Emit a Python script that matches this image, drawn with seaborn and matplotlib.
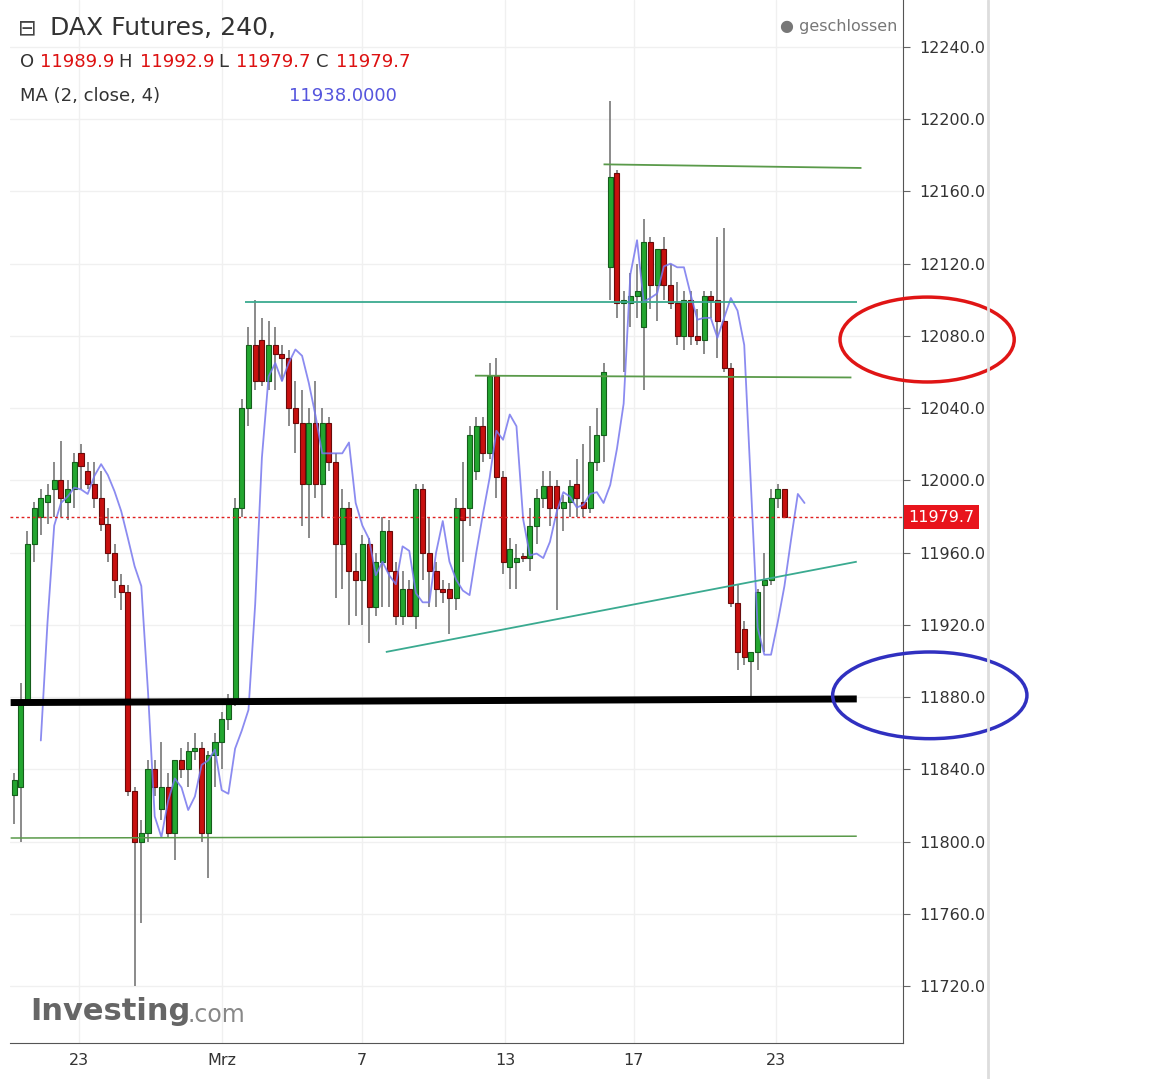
import numpy as np
import pandas as pd
import seaborn as sns
import matplotlib.pyplot as plt
from matplotlib.patches import Ellipse

# 240-min candles, O H L C
opens = [11826, 11830, 11878, 11965, 11980, 11988, 11995, 12000, 11988, 11995, 12015, 12005, 11998, 11990, 11976, 11960, 11942, 11938, 11828, 11800,
         11805, 11840, 11818, 11830, 11805, 11845, 11840, 11850, 11852, 11805, 11848, 11855, 11868, 11878, 11985, 12040, 12075, 12078, 12055, 12075,
         12070, 12068, 12040, 12032, 11998, 12032, 11998, 12032, 12010, 11965, 11985, 11950, 11945, 11965, 11930, 11955, 11972, 11950, 11925, 11940,
         11925, 11995, 11960, 11950, 11940, 11940, 11935, 11985, 11985, 12005, 12030, 12015, 12058, 12002, 11952, 11955, 11958, 11957, 11975, 11990,
         11997, 11997, 11985, 11988, 11998, 11988, 11985, 12010, 12025, 12118, 12170, 12098, 12098, 12102, 12085, 12132, 12108, 12128, 12108, 12098,
         12080, 12100, 12080, 12078, 12102, 12100, 12088, 12062, 11932, 11918, 11900, 11905, 11942, 11945, 11990, 11995]
highs = [11838, 11888, 11972, 11988, 11995, 11998, 12010, 12022, 12000, 12015, 12020, 12010, 12010, 12005, 11985, 11965, 11948, 11942, 11830, 11812,
         11845, 11845, 11855, 11838, 11845, 11852, 11855, 11860, 11855, 11850, 11860, 11872, 11882, 11990, 12045, 12085, 12100, 12090, 12088, 12085,
         12075, 12072, 12055, 12050, 12040, 12055, 12040, 12035, 12015, 11995, 11988, 11960, 11970, 11968, 11960, 11980, 11978, 11955, 11950, 11945,
         11998, 11998, 11980, 11955, 11945, 11943, 11990, 12010, 12030, 12035, 12035, 12065, 12068, 12005, 11968, 11965, 11960, 11985, 11995, 12005,
         12005, 12000, 11992, 12000, 12012, 12020, 12030, 12040, 12065, 12210, 12172, 12105, 12115, 12120, 12145, 12135, 12128, 12135, 12120, 12110,
         12105, 12105, 12095, 12105, 12105, 12135, 12140, 12065, 11942, 11922, 11905, 11940, 11960, 11995, 11998, 11995]
lows = [11810, 11800, 11876, 11955, 11970, 11976, 11980, 11980, 11978, 11985, 11995, 11995, 11985, 11972, 11955, 11935, 11928, 11825, 11720, 11755,
        11800, 11825, 11812, 11802, 11790, 11835, 11830, 11845, 11800, 11780, 11830, 11840, 11862, 11875, 11980, 12030, 12050, 12052, 12050, 12050,
        12055, 12030, 12015, 11975, 11968, 11990, 11980, 12005, 11935, 11940, 11920, 11925, 11920, 11910, 11925, 11930, 11930, 11920, 11920, 11925,
        11918, 11945, 11930, 11930, 11932, 11915, 11928, 11955, 11975, 12000, 12010, 12012, 11990, 11948, 11940, 11940, 11955, 11950, 11965, 11985,
        11975, 11928, 11972, 11980, 11980, 11980, 11982, 12005, 12010, 12100, 12090, 12060, 12085, 12090, 12050, 12095, 12088, 12100, 12095, 12075,
        12072, 12075, 12075, 12070, 12090, 12068, 12060, 11930, 11895, 11898, 11880, 11895, 11905, 11942, 11985, 11979]
closes = [11834, 11878, 11965, 11985, 11990, 11992, 12000, 11990, 11995, 12010, 12008, 11998, 11990, 11976, 11960, 11945, 11938, 11828, 11800, 11805,
          11840, 11830, 11830, 11805, 11845, 11840, 11850, 11852, 11805, 11848, 11855, 11868, 11878, 11985, 12040, 12075, 12055, 12055, 12075, 12070,
          12068, 12040, 12032, 11998, 12032, 11998, 12032, 12010, 11965, 11985, 11950, 11945, 11965, 11930, 11955, 11972, 11950, 11925, 11940, 11925,
          11995, 11960, 11950, 11940, 11938, 11935, 11985, 11978, 12025, 12030, 12015, 12058, 12002, 11955, 11962, 11957, 11957, 11975, 11990, 11997,
          11985, 11985, 11988, 11997, 11990, 11985, 12010, 12025, 12060, 12168, 12098, 12100, 12102, 12105, 12132, 12108, 12128, 12108, 12098, 12080,
          12100, 12080, 12078, 12102, 12100, 12088, 12062, 11932, 11905, 11902, 11905, 11938, 11945, 11990, 11995, 11980]

last_price = 11979.7
price_ticks = [11720, 11760, 11800, 11840, 11880, 11920, 11960, 12000, 12040, 12080, 12120, 12160, 12200, 12240]
date_pos = [9.7, 31.0, 51.9, 73.3, 92.5, 113.7]
date_labels = ['23', 'Mrz', '7', '13', '17', '23']

# drawn trend lines: (x0, y0, x1, y1, colour, width)
trend_lines = [
    (88, 12175, 126.5, 12173, '#5a9a4a', 1.3),
    (34.5, 12099, 125.8, 12099, '#3aaa90', 1.3),
    (68.8, 12058, 125.0, 12057, '#5a9a4a', 1.3),
    (55.5, 11905, 125.8, 11955, '#3aaa90', 1.3),
    (-0.5, 11877, 125.8, 11879, 'black', 5),
    (-0.5, 11802, 125.8, 11803, '#5a9a4a', 1.1),
]

df = pd.DataFrame({'o': opens, 'h': highs, 'l': lows, 'c': closes})
df['i'] = np.arange(len(df))
# MA(2, close, 4) -> 2 period mean shifted forward
ma = df['c'].rolling(2).mean()
ma_df = pd.DataFrame({'i': df['i'] + 3, 'ma': ma}).dropna()

sns.set_style('white')
fig = plt.figure(figsize=(11.6, 10.79), dpi=100)
ax = fig.add_axes([10 / 1160, 36 / 1079, 893 / 1160, 1043 / 1079])

for p in price_ticks:
    ax.axhline(p, color='#f0f0f0', lw=1, zorder=0)
for d in date_pos:
    ax.axvline(d, color='#f0f0f0', lw=1, zorder=0)

up = df['c'] >= df['o']
ax.vlines(df['i'], df['l'], df['h'], color='#777777', lw=1.2, zorder=2)
bottoms = np.minimum(df['o'], df['c'])
heights = np.maximum(np.abs(df['c'] - df['o']), 1.2)
ax.bar(df['i'], heights, bottom=bottoms, width=0.75,
       color=np.where(up, '#23a630', '#c8100f'),
       edgecolor=np.where(up, '#155e1b', '#6a0a0a'), lw=0.8, zorder=3)

sns.lineplot(data=ma_df, x='i', y='ma', ax=ax, color='#7777ee', lw=1.3, zorder=4, alpha=0.85)

for x0, y0, x1, y1, col, w in trend_lines:
    ax.plot([x0, x1], [y0, y1], color=col, lw=w, zorder=5, solid_capstyle='butt')

ax.axhline(last_price, color='#e02020', lw=1, ls=(0, (2, 2)), zorder=5)

ax.set_xlim(-0.6, 132.7)
ax.set_ylim(11688.5, 12266)
ax.set_xlabel('')
ax.set_ylabel('')
ax.set_xticks(date_pos)
ax.set_xticklabels(date_labels, fontsize=11.5, color='#333333')
ax.yaxis.tick_right()
ax.set_yticks(price_ticks)
ax.set_yticklabels([f'{p:.1f}' for p in price_ticks], fontsize=11.5, color='#333333')
ax.tick_params(axis='y', length=5, pad=7, color='#666666')
ax.tick_params(axis='x', length=4, color='#666666')
for s in ['top', 'left']:
    ax.spines[s].set_visible(False)
for s in ['right', 'bottom']:
    ax.spines[s].set_color('#555555')

ax.text(1.006, (last_price - 11688.5) / (12266 - 11688.5), f'{last_price:.1f}',
        transform=ax.transAxes, ha='left', va='center', fontsize=11.5, color='white',
        bbox=dict(boxstyle='square,pad=0.3', fc='#e8141c', ec='none'))

# circles
ax.add_patch(Ellipse((136.3, 12078), 26, 47, fill=False, ec='#e01515', lw=2.5, clip_on=False, zorder=6))
ax.add_patch(Ellipse((136.7, 11881), 29, 48, fill=False, ec='#3030c0', lw=2.5, clip_on=False, zorder=6))

# header
fig.text(18 / 1160, 1 - 28 / 1079, '\u229f', fontsize=16, color='#444444', va='center')
fig.text(50 / 1160, 1 - 28 / 1079, 'DAX Futures, 240,', fontsize=18, color='#333333', va='center')
fig.text(20 / 1160, 1 - 62 / 1079, 'O', fontsize=13, color='#333333', va='center')
fig.text(40 / 1160, 1 - 62 / 1079, '11989.9', fontsize=13, color='#dd1111', va='center')
fig.text(118 / 1160, 1 - 62 / 1079, 'H', fontsize=13, color='#333333', va='center')
fig.text(140 / 1160, 1 - 62 / 1079, '11992.9', fontsize=13, color='#dd1111', va='center')
fig.text(218 / 1160, 1 - 62 / 1079, 'L', fontsize=13, color='#333333', va='center')
fig.text(236 / 1160, 1 - 62 / 1079, '11979.7', fontsize=13, color='#dd1111', va='center')
fig.text(316 / 1160, 1 - 62 / 1079, 'C', fontsize=13, color='#333333', va='center')
fig.text(336 / 1160, 1 - 62 / 1079, '11979.7', fontsize=13, color='#dd1111', va='center')
fig.text(20 / 1160, 1 - 96 / 1079, 'MA (2, close, 4)', fontsize=13, color='#333333', va='center')
fig.text(289 / 1160, 1 - 96 / 1079, '11938.0000', fontsize=13, color='#5555dd', va='center')
fig.text(780 / 1160, 1 - 27 / 1079, '\u25cf geschlossen', fontsize=11.5, color='#777777', va='center')
fig.text(30 / 1160, 1 - 1012 / 1079, 'Investing', fontsize=22, color='#666666', va='center', fontweight='bold')
fig.text(188 / 1160, 1 - 1015 / 1079, '.com', fontsize=17, color='#888888', va='center')

fig.add_artist(plt.Line2D([988 / 1160, 988 / 1160], [0, 1], color='#dddddd', lw=2))

fig.savefig('out.png', dpi=100)
